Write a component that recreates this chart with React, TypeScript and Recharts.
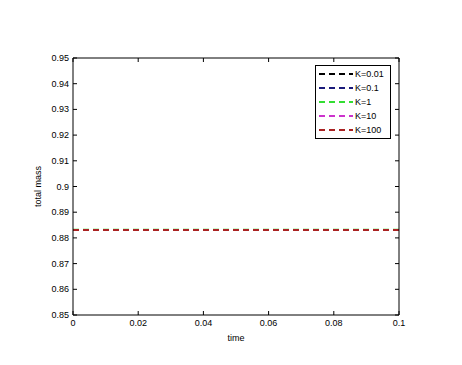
import { LineChart, Line, XAxis, YAxis } from 'recharts';

const times = [0, 0.01, 0.02, 0.03, 0.04, 0.05, 0.06, 0.07, 0.08, 0.09, 0.1];
const massK001 = [0.8831, 0.8831, 0.8831, 0.8831, 0.8831, 0.8831, 0.8831, 0.8831, 0.8831, 0.8831, 0.8831];
const massK01 = [0.8831, 0.8831, 0.8831, 0.8831, 0.8831, 0.8831, 0.8831, 0.8831, 0.8831, 0.8831, 0.8831];
const massK1 = [0.8832, 0.8832, 0.8832, 0.8832, 0.8832, 0.8832, 0.8832, 0.8832, 0.8832, 0.8832, 0.8832];
const massK10 = [0.8831, 0.8831, 0.8831, 0.8831, 0.8831, 0.8831, 0.8831, 0.8831, 0.8831, 0.8831, 0.8831];
const massK100 = [0.8831, 0.8831, 0.8831, 0.8831, 0.8831, 0.8831, 0.8831, 0.8831, 0.8831, 0.8831, 0.8831];

const xTicks = [0, 0.02, 0.04, 0.06, 0.08, 0.1];
const yTicks = [0.85, 0.86, 0.87, 0.88, 0.89, 0.9, 0.91, 0.92, 0.93, 0.94, 0.95];

const seriesNames = ['K=0.01', 'K=0.1', 'K=1', 'K=10', 'K=100'];
const seriesKeys = ['k001', 'k01', 'k1', 'k10', 'k100'];
const seriesColors = ['#000000', '#1a1a7a', '#33dd33', '#cc33cc', '#aa2222'];

const data = times.map((t, i) => ({
  time: t,
  k001: massK001[i],
  k01: massK01[i],
  k1: massK1[i],
  k10: massK10[i],
  k100: massK100[i],
}));

const FONT = 'Liberation Sans, Arial, sans-serif';
const fmt = (v: number) => String(Number(v.toFixed(2)));

const BottomTick = (props: any) => {
  const { x, y, payload } = props;
  return (
    <g>
      <line x1={x} y1={y - 2} x2={x} y2={y - 6} stroke="#000" />
      <text x={x} y={y + 9} textAnchor="middle" fontSize={9} fontFamily={FONT} fill="#000">
        {fmt(payload.value)}
      </text>
    </g>
  );
};

const TopTick = (props: any) => {
  const { x, y } = props;
  return <line x1={x} y1={y + 2} x2={x} y2={y + 6} stroke="#000" />;
};

const LeftTick = (props: any) => {
  const { x, y, payload } = props;
  return (
    <g>
      <line x1={x + 2} y1={y} x2={x + 6} y2={y} stroke="#000" />
      <text x={x - 2} y={y + 3} textAnchor="end" fontSize={9} fontFamily={FONT} fill="#000">
        {fmt(payload.value)}
      </text>
    </g>
  );
};

const RightTick = (props: any) => {
  const { x, y } = props;
  return <line x1={x - 2} y1={y} x2={x - 6} y2={y} stroke="#000" />;
};

const LegendBox = () => (
  <div
    style={{
      position: 'absolute',
      left: 315,
      top: 65,
      border: '1px solid #000',
      background: '#fff',
      padding: '1px 6px 1px 3px',
      fontFamily: FONT,
      fontSize: 9,
      lineHeight: '14px',
    }}
  >
    {seriesNames.map((name, i) => (
      <div key={name} style={{ display: 'flex', alignItems: 'center' }}>
        <svg width={34} height={6} style={{ marginRight: 2 }}>
          <line x1={0} y1={3} x2={34} y2={3} stroke={seriesColors[i]} strokeWidth={2} strokeDasharray="6 4" />
        </svg>
        <span>{name}</span>
      </div>
    ))}
  </div>
);

export default function App() {
  return (
    <div style={{ position: 'absolute', left: 0, top: 0, width: 462, height: 365, background: '#fff' }}>
      <LineChart width={462} height={365} data={data} margin={{ top: 57, right: 62, bottom: 20, left: 33 }}>
        <XAxis
          dataKey="time"
          type="number"
          domain={[0, 0.1]}
          ticks={xTicks}
          interval={0}
          tick={<BottomTick />}
          tickLine={false}
          tickSize={0}
          height={30}
          stroke="#000"
          allowDataOverflow
          label={{ value: 'time', position: 'insideBottom', offset: 4, fontSize: 9, fontFamily: FONT, fill: '#000' }}
        />
        <XAxis
          xAxisId="top"
          orientation="top"
          dataKey="time"
          type="number"
          domain={[0, 0.1]}
          ticks={xTicks}
          interval={0}
          tick={<TopTick />}
          tickLine={false}
          tickSize={0}
          height={1}
          stroke="#000"
        />
        <YAxis
          type="number"
          domain={[0.85, 0.95]}
          ticks={yTicks}
          interval={0}
          tick={<LeftTick />}
          tickLine={false}
          tickSize={0}
          width={40}
          stroke="#000"
          allowDataOverflow
          label={{
            value: 'total mass',
            angle: -90,
            position: 'insideLeft',
            offset: 5,
            fontSize: 9,
            fontFamily: FONT,
            fill: '#000',
            style: { textAnchor: 'middle' },
          }}
        />
        <YAxis
          yAxisId="right"
          orientation="right"
          type="number"
          domain={[0.85, 0.95]}
          ticks={yTicks}
          interval={0}
          tick={<RightTick />}
          tickLine={false}
          tickSize={0}
          width={1}
          stroke="#000"
        />
        {/* invisible series so the top/right frame axes get rendered */}
        <Line
          xAxisId="top"
          yAxisId="right"
          dataKey="k001"
          stroke="none"
          dot={false}
          legendType="none"
          isAnimationActive={false}
        />
        {seriesKeys.map((k, i) => (
          <Line
            key={k}
            dataKey={k}
            name={seriesNames[i]}
            stroke={seriesColors[i]}
            strokeWidth={2}
            strokeDasharray="6 4"
            dot={false}
            isAnimationActive={false}
          />
        ))}
      </LineChart>
      <LegendBox />
    </div>
  );
}
